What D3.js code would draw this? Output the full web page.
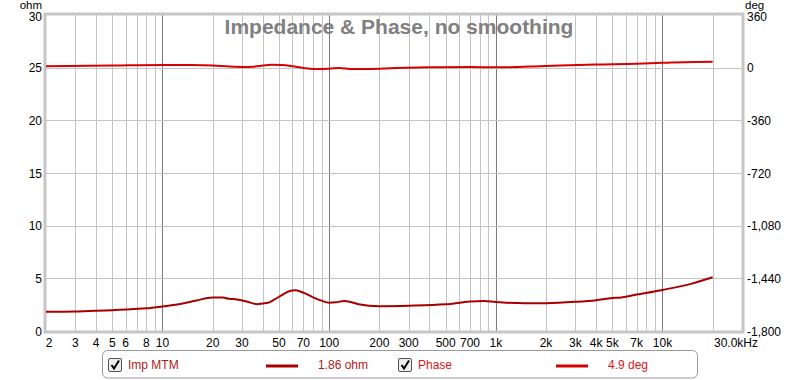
<!DOCTYPE html>
<html><head><meta charset="utf-8">
<script src="https://cdn.jsdelivr.net/npm/d3@7"></script>
<style>body{margin:0;background:#fff}svg{display:block}text{font-family:"Liberation Sans",Arial,sans-serif}</style>
</head><body><svg id="c" width="800" height="380"></svg>
<script>
const title = "Impedance & Phase, no smoothing";
const impFreq = [2,3,4,5,6,8,10,13,16,20,23,25,28,32,37,40,43,47,52,57,63,70,80,90,100,110,123,135,150,200,300,500,700,850,1000,1500,2000,3000,4000,5000,5500,7000,10000,15000,20000];
const impOhm  = [1.83,1.86,1.93,1.98,2.03,2.15,2.33,2.58,2.9,3.18,3.18,3.06,3.0,2.8,2.55,2.62,2.68,3.0,3.4,3.75,3.86,3.64,3.2,2.88,2.68,2.72,2.86,2.75,2.54,2.36,2.4,2.53,2.8,2.86,2.75,2.63,2.64,2.77,2.93,3.14,3.16,3.46,3.9,4.5,5.1];
const phFreq = [2,5,10,15,20,25,30,35,40,45,52,60,70,80,100,115,137,170,250,400,700,1000,2000,4000,7000,10000,20000];
const phDeg  = [10,14,18,18,15,8,5,7,14,20,18,10,-2,-9,-7,-2,-9,-9,-3,2,5,2,12,22,27,34,41];
const ohmTicks = [0,5,10,15,20,25,30];
const degTicks = ["-1,800","-1,440","-1,080","-720","-360","0","360"];
const degVals = [-1800,-1440,-1080,-720,-360,0,360];
const xLabels = [[2,"2"],[3,"3"],[4,"4"],[5,"5"],[6,"6"],[8,"8"],[10,"10"],[20,"20"],[30,"30"],[50,"50"],[70,"70"],[100,"100"],[200,"200"],[300,"300"],[500,"500"],[700,"700"],[1000,"1k"],[2000,"2k"],[3000,"3k"],[4000,"4k"],[5000,"5k"],[7000,"7k"],[10000,"10k"]];
const legendItems = [{name:"Imp MTM", value:"1.86 ohm"},{name:"Phase", value:"4.9 deg"}];

const svg = d3.select("#c");
const L=46, R=742, T=15, B=331;
const x = d3.scaleLog().domain([2,30000]).range([L,R]);
const yL = d3.scaleLinear().domain([0,30]).range([B,T]);
const yR = d3.scaleLinear().domain([-1800,360]).range([B,T]);

// grid
const g = svg.append("g");
const gridF = [];
for (let d=1; d<=10000; d*=10) for (let m=1; m<=9; m++){ const f=d*m; if (f>2 && f<30000) gridF.push(f); }
g.selectAll(".vg").data(gridF).enter().append("line")
  .attr("x1",d=>Math.round(x(d))+0.5).attr("x2",d=>Math.round(x(d))+0.5).attr("y1",T).attr("y2",B)
  .attr("stroke",d=>[10,100,1000,10000].includes(d)?"#7a7a7a":"#c4c4c4").attr("stroke-width",1);
g.selectAll(".hg").data(ohmTicks.slice(1,-1)).enter().append("line")
  .attr("x1",L).attr("x2",R).attr("y1",d=>Math.round(yL(d))+0.5).attr("y2",d=>Math.round(yL(d))+0.5)
  .attr("stroke","#c4c4c4");
// frame
svg.append("rect").attr("x",L-1).attr("y",T-1).attr("width",R-L+2).attr("height",B-T+2)
  .attr("fill","none").attr("stroke","#c6c6c6").attr("stroke-width",3);

// title
svg.append("text").attr("x",399).attr("y",34).attr("text-anchor","middle")
  .attr("font-size",21).attr("font-weight","bold").attr("fill","#808080").text(title);

// axes labels
const ax = svg.append("g").attr("font-size",12).attr("fill","#000");
ax.selectAll(".yl").data(ohmTicks).enter().append("text")
  .attr("x",42).attr("y",d=>d===30?20.5:yL(d)+4.5).attr("text-anchor","end").text(d=>d);
ax.append("text").attr("x",42).attr("y",8.5).attr("font-size",11.5).attr("text-anchor","end").text("ohm");
ax.selectAll(".yr").data(degVals).enter().append("text")
  .attr("x",747).attr("y",d=>d===360?20.5:yR(d)+4.5).attr("text-anchor","start").text((d,i)=>degTicks[i]);
ax.append("text").attr("x",745).attr("y",8.5).attr("font-size",11.5).attr("text-anchor","start").text("deg");
ax.selectAll(".xl").data(xLabels).enter().append("text")
  .attr("x",d=>Math.max(x(d[0]),49)).attr("y",347).attr("text-anchor","middle").text(d=>d[1]);
ax.append("text").attr("x",714).attr("y",347).attr("text-anchor","start").text("30.0kHz");

// curves
const lineImp = d3.line().x(d=>x(d[0])).y(d=>yL(d[1])).curve(d3.curveMonotoneX);
const linePh = d3.line().x(d=>x(d[0])).y(d=>yR(d[1])).curve(d3.curveMonotoneX);
svg.append("path").attr("d",linePh(phFreq.map((f,i)=>[f,phDeg[i]])))
  .attr("fill","none").attr("stroke","#d80000").attr("stroke-width",2);
svg.append("path").attr("d",lineImp(impFreq.map((f,i)=>[f,impOhm[i]])))
  .attr("fill","none").attr("stroke","#a80000").attr("stroke-width",2);

// legend
const lg = svg.append("g");
lg.append("rect").attr("x",102.5).attr("y",350.5).attr("width",595).attr("height",27.5).attr("rx",5)
  .attr("fill","#fff").attr("stroke","#9a9a9a");
const lx = [108, 398];
const colors = ["#a80000","#d80000"];
const tcol = ["#b01818","#d81818"];
legendItems.forEach((it,i)=>{
  const b = lx[i];
  lg.append("rect").attr("x",b+0.5).attr("y",358.5).attr("width",13).attr("height",13).attr("rx",1.5)
    .attr("fill","#eeeeee").attr("stroke","#555");
  lg.append("path").attr("d",`M${b+3.5},${365} L${b+6},${368.5} L${b+11},${360.5}`)
    .attr("fill","none").attr("stroke","#000").attr("stroke-width",2);
  lg.append("text").attr("x",b+20).attr("y",369).attr("font-size",12).attr("fill",tcol[i]).text(it.name);
  lg.append("line").attr("x1",b+158).attr("x2",b+190).attr("y1",366).attr("y2",366)
    .attr("stroke",colors[i]).attr("stroke-width",3);
  lg.append("text").attr("x",b+210).attr("y",369).attr("font-size",12).attr("fill",tcol[i]).text(it.value);
});
</script></body></html>
